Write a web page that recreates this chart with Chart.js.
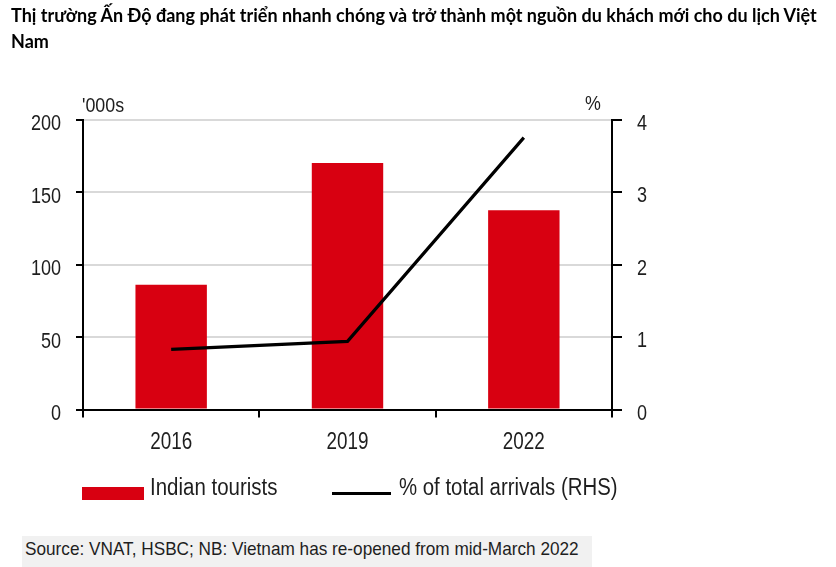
<!DOCTYPE html>
<html>
<head>
<meta charset="utf-8">
<script src="https://cdn.jsdelivr.net/npm/chart.js@4.4.1/dist/chart.umd.min.js"></script>
<style>
  html, body { margin: 0; padding: 0; background: #fff; }
  #wrap { position: relative; width: 836px; height: 567px; overflow: hidden; background: #fff; }
  #c { position: absolute; left: 0; top: 0; }
  .t { position: absolute; white-space: nowrap; color: #1e1e1e; transform-origin: 0 0; }
  .nar { font-family: "Liberation Sans", Arial, sans-serif; font-size: 23px; }
  #title { left: 11px; top: 2px; font-family: Lato, "Open Sans", sans-serif; font-weight: bold; font-size: 18px; line-height: 26px; color: #000; }
  #srcbg { position: absolute; left: 22px; top: 536px; width: 570px; height: 31px; background: #f1f1f1; }
  #src { left: 25px; top: 538px; font-size: 19px; transform: scaleX(0.905); }
  #legBar { position: absolute; left: 82px; top: 487px; width: 62px; height: 13px; background: #d80011; }
  #legLine { position: absolute; left: 332px; top: 492px; width: 59px; height: 3px; background: #000; }
</style>
</head>
<body>
<div id="wrap">
  <canvas id="c" width="836" height="567"></canvas>
  <div id="title" class="t">Thị trường Ấn Độ đang phát triển nhanh chóng và trở thành một nguồn du khách mới cho du lịch Việt<br>Nam</div>
  <div class="t nar" style="left:82px; top:93px; font-size:21px; transform:scaleX(0.85);">'000s</div>
  <div class="t nar" style="left:585px; top:91px; font-size:21px; transform:scaleX(0.85);">%</div>
  <div id="legBar"></div>
  <div class="t nar" style="left:150px; top:474px; transform:scaleX(0.89);">Indian tourists</div>
  <div id="legLine"></div>
  <div class="t nar" style="left:399px; top:474px; transform:scaleX(0.886);">% of total arrivals (RHS)</div>
  <div id="srcbg"></div>
  <div id="src" class="t nar">Source: VNAT, HSBC; NB: Vietnam has re-opened from mid-March 2022</div>
</div>
<script>
const categories = ["2016", "2019", "2022"];
const indianTourists = [86, 170, 137.5];      // '000s, left axis
const shareOfArrivals = [0.83, 0.94, 3.75];   // %, right axis
const leftTicks = [0, 50, 100, 150, 200];
const rightTicks = [0, 1, 2, 3, 4];

const FONT = '"Liberation Sans", Arial, sans-serif';
const TXT = '#1e1e1e';

// Tick labels drawn from the library's scales, horizontally condensed (Arial Narrow look)
const condensedTicks = {
  id: 'condensedTicks',
  afterDraw(chart) {
    const ctx = chart.ctx;
    const draw = (text, x, y, align, size, sx) => {
      ctx.save();
      ctx.font = size + 'px ' + FONT;
      ctx.fillStyle = TXT;
      ctx.textAlign = align;
      ctx.textBaseline = 'alphabetic';
      ctx.translate(x, y);
      ctx.scale(sx, 1);
      ctx.fillText(text, 0, 0);
      ctx.restore();
    };
    const xs = chart.scales.x;
    xs.ticks.forEach((t, i) => draw(String(xs.getLabelForValue(t.value)), xs.getPixelForTick(i), 449, 'center', 23, 0.82));
    const ys = chart.scales.y;
    ys.ticks.forEach(t => draw(String(t.value), ys.left + ys.width - 22, ys.getPixelForValue(t.value) + 10.5, 'right', 22, 0.82));
    const y1 = chart.scales.y1;
    y1.ticks.forEach(t => draw(String(t.value), y1.left + 25, y1.getPixelForValue(t.value) + 10, 'left', 22, 0.82));
  }
};

new Chart(document.getElementById('c'), {
  data: {
    labels: categories,
    datasets: [
      {
        type: 'line',
        label: '% of total arrivals (RHS)',
        data: shareOfArrivals,
        yAxisID: 'y1',
        borderColor: '#000',
        borderWidth: 3.2,
        pointRadius: 0,
        tension: 0,
        order: 0
      },
      {
        type: 'bar',
        label: 'Indian tourists',
        data: indianTourists,
        yAxisID: 'y',
        backgroundColor: '#d80011',
        categoryPercentage: 1,
        barPercentage: 0.405,
        order: 1
      }
    ]
  },
  plugins: [condensedTicks],
  options: {
    responsive: false,
    animation: false,
    devicePixelRatio: 1,
    layout: { padding: { top: 119.5, left: 0, right: 0, bottom: 0 } },
    plugins: { legend: { display: false }, tooltip: { enabled: false }, title: { display: false } },
    scales: {
      x: {
        type: 'category',
        position: 'bottom',
        offset: true,
        grid: { display: true, drawOnChartArea: false, offset: true, color: '#000', tickColor: '#000', tickLength: 8, lineWidth: 2 },
        border: { display: true, color: '#000', width: 2 },
        ticks: { display: false },
        afterFit: s => { s.height = 567 - 409.5; }
      },
      y: {
        position: 'left',
        min: 0, max: 200,
        afterBuildTicks: s => { s.ticks = leftTicks.map(v => ({ value: v })); },
        grid: { color: '#d9d9d9', lineWidth: 2, tickColor: '#000', tickLength: 7 },
        border: { display: true, color: '#000', width: 2 },
        ticks: { display: false },
        afterFit: s => { s.width = 83; }
      },
      y1: {
        position: 'right',
        min: 0, max: 4,
        afterBuildTicks: s => { s.ticks = rightTicks.map(v => ({ value: v })); },
        grid: { drawOnChartArea: false, tickColor: '#000', tickLength: 10, lineWidth: 2 },
        border: { display: true, color: '#000', width: 2 },
        ticks: { display: false },
        afterFit: s => { s.width = 836 - 612; }
      }
    }
  }
});
</script>
</body>
</html>
